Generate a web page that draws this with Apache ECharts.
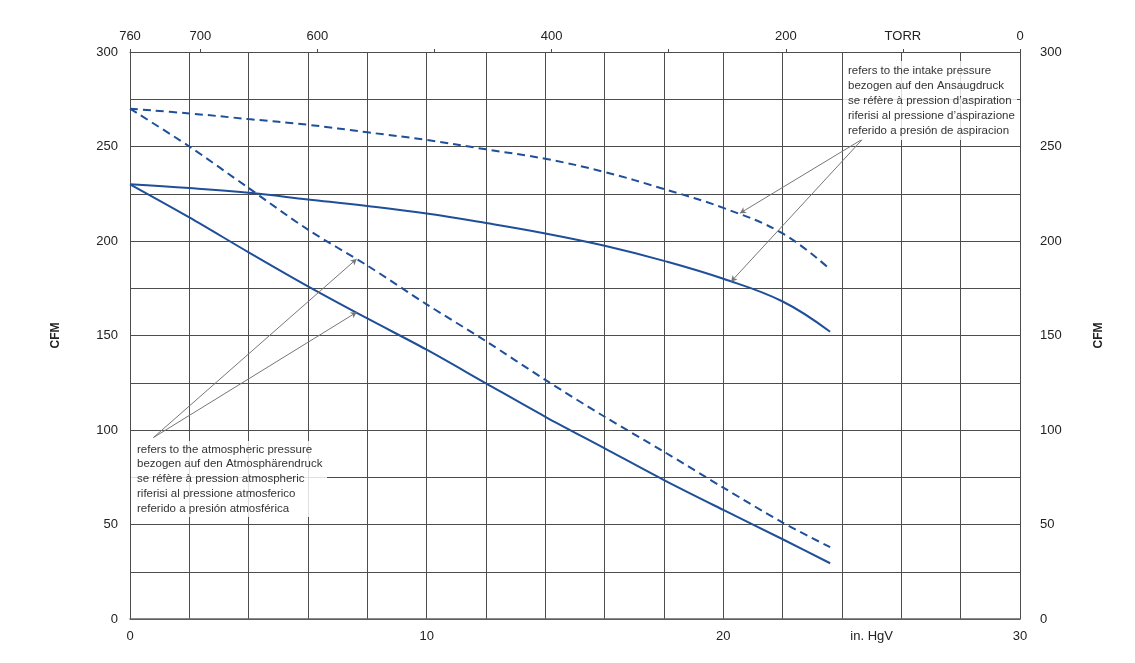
<!DOCTYPE html>
<html>
<head>
<meta charset="utf-8">
<script src="https://cdn.jsdelivr.net/npm/echarts@6/dist/echarts.min.js"></script>
<style>
html,body{margin:0;padding:0;background:#fff;}
#chart{width:1135px;height:663px;}
</style>
</head>
<body>
<div id="chart"></div>
<script>
// ---- data ----
const inHgV = [0, 2, 4, 6, 8, 10, 12, 14, 16, 18, 20, 22, 23.6];
// referred to intake pressure
const intakeDashed = [270, 267.5, 264.5, 261.5, 257.5, 253.5, 248.5, 243.5, 236.5, 227.5, 217.5, 204, 185];
const intakeSolid  = [230, 228, 225.5, 222, 218.5, 214.5, 209.5, 204, 197.5, 189.5, 180, 168, 152];
// referred to atmospheric pressure
const atmDashed = [270, 250, 228, 206, 187, 166.5, 147, 126.5, 107, 88.5, 69.5, 51, 38];
const atmSolid  = [230, 212.5, 194, 176, 159, 142.5, 124.7, 107, 90.3, 73.5, 57.7, 42.2, 29.5];

const torrTickLabels = {760: '760', 700: '700', 600: '600', 400: '400', 200: '200', 100: 'TORR', 0: '0'};
const hgTickLabels = {0: '0', 10: '10', 20: '20', 30: '30'};
const cfmTickLabels = [0, 50, 100, 150, 200, 250, 300];

const intakeNote = ['refers to the intake pressure', 'bezogen auf den Ansaugdruck', 'se réfère à pression d\u2019aspiration', 'riferisi al pressione d\u2019aspirazione', 'referido a presión de aspiracion'];
const atmNote = ['refers to the atmospheric pressure', 'bezogen auf den Atmosphärendruck', 'se réfère à pression atmospheric', 'riferisi al pressione atmosferico', 'referido a presión atmosférica'];

// leader lines in data units [from, to]
const intakeLeaders = [[[24.7, 254], [20.56, 214.7]], [[24.7, 254], [20.26, 178.5]]];
const atmLeaders = [[[0.79, 96], [7.64, 190.5]], [[0.79, 96], [7.64, 162.3]]];

// ---- chart ----
const FONT = '"Liberation Sans", Arial, sans-serif';
const BLUE = '#1f4f99';
const GRID = '#4d4d4d';
const pair = arr => inHgV.map((x, i) => [x, arr[i]]);

const chart = echarts.init(document.getElementById('chart'), null, {renderer: 'canvas'});

const leaderData = intakeLeaders.concat(atmLeaders).map(l => [{coord: l[0]}, {coord: l[1]}]);

const option = {
  animation: false,
  backgroundColor: '#fff',
  grid: {left: 130, right: 115, top: 52, bottom: 44, containLabel: false},
  xAxis: [
    {
      type: 'value', position: 'bottom', min: 0, max: 30, interval: 2,
      axisLine: {show: true, onZero: false, lineStyle: {color: '#666', width: 1.5}},
      axisTick: {show: false},
      splitLine: {show: true, lineStyle: {color: GRID, width: 1}},
      axisLabel: {margin: 11, color: '#222', fontFamily: FONT, fontSize: 13,
        formatter: v => hgTickLabels[v] !== undefined ? hgTickLabels[v] : ''}
    },
    {
      type: 'value', position: 'top', min: 0, max: 760, interval: 100, inverse: true,
      axisLine: {show: true, onZero: false, lineStyle: {color: GRID, width: 1}},
      axisTick: {show: true, length: 3, inside: false, lineStyle: {color: GRID}},
      splitLine: {show: false},
      axisLabel: {margin: 9, color: '#222', fontFamily: FONT, fontSize: 13,
        showMinLabel: true, showMaxLabel: true, hideOverlap: false,
        formatter: v => torrTickLabels[v] !== undefined ? torrTickLabels[v] : ''}
    },
    {
      type: 'value', position: 'bottom', min: 0, max: 30, interval: 5,
      axisLine: {show: false}, axisTick: {show: false}, splitLine: {show: false},
      axisLabel: {margin: 11, color: '#222', fontFamily: FONT, fontSize: 13,
        formatter: v => v === 25 ? 'in. HgV' : ''}
    }
  ],
  yAxis: [
    {
      type: 'value', position: 'left', min: 0, max: 300, interval: 25,
      name: 'CFM', nameLocation: 'middle', nameRotate: 90, nameGap: 68,
      nameTextStyle: {fontFamily: FONT, fontSize: 12, fontWeight: 'bold', color: '#222'},
      axisLine: {show: true, onZero: false, lineStyle: {color: GRID, width: 1}},
      axisTick: {show: false},
      splitLine: {show: true, lineStyle: {color: GRID, width: 1}},
      axisLabel: {margin: 12, color: '#222', fontFamily: FONT, fontSize: 13,
        formatter: v => cfmTickLabels.indexOf(v) >= 0 ? String(v) : ''}
    },
    {
      type: 'value', position: 'right', min: 0, max: 300, interval: 25,
      name: 'CFM', nameLocation: 'middle', nameRotate: 90, nameGap: 73,
      nameTextStyle: {fontFamily: FONT, fontSize: 12, fontWeight: 'bold', color: '#222'},
      axisLine: {show: true, onZero: false, lineStyle: {color: GRID, width: 1}},
      axisTick: {show: false},
      splitLine: {show: false},
      axisLabel: {margin: 20, color: '#222', fontFamily: FONT, fontSize: 13,
        formatter: v => cfmTickLabels.indexOf(v) >= 0 ? String(v) : ''}
    }
  ],
  series: [
    {
      name: 'intake dashed', type: 'line', xAxisIndex: 0, yAxisIndex: 0,
      data: pair(intakeDashed), smooth: 0.4, showSymbol: false, symbol: 'none',
      lineStyle: {color: BLUE, width: 2, type: [8, 5]}, z: 3
    },
    {
      name: 'intake solid', type: 'line', xAxisIndex: 0, yAxisIndex: 0,
      data: pair(intakeSolid), smooth: 0.4, showSymbol: false, symbol: 'none',
      lineStyle: {color: BLUE, width: 2}, z: 3
    },
    {
      name: 'atm dashed', type: 'line', xAxisIndex: 0, yAxisIndex: 0,
      data: pair(atmDashed), smooth: 0.3, showSymbol: false, symbol: 'none',
      lineStyle: {color: BLUE, width: 2, type: [8, 5]}, z: 3
    },
    {
      name: 'atm solid', type: 'line', xAxisIndex: 0, yAxisIndex: 0,
      data: pair(atmSolid), smooth: 0.3, showSymbol: false, symbol: 'none',
      lineStyle: {color: BLUE, width: 2}, z: 3,
      markLine: {
        silent: true, animation: false,
        symbol: ['none', 'arrow'], symbolSize: [5, 6],
        label: {show: false},
        lineStyle: {color: '#777', width: 1, type: 'solid'},
        data: leaderData
      }
    }
  ],
  graphic: [
    {type: 'rect', z: 50, shape: {x: 843, y: 61, width: 174, height: 79},
      style: {fill: 'rgba(255,255,255,0.82)'}},
    {type: 'text', z: 51, x: 848, y: 63,
      style: {text: intakeNote.join('\n'), font: '11.5px ' + FONT, lineHeight: 15, fill: '#333'}},
    {type: 'rect', z: 50, shape: {x: 131, y: 441, width: 196, height: 76},
      style: {fill: 'rgba(255,255,255,0.82)'}},
    {type: 'text', z: 51, x: 137, y: 442,
      style: {text: atmNote.join('\n'), font: '11.5px ' + FONT, lineHeight: 14.8, fill: '#333'}}
  ]
};
chart.setOption(option);
</script>
</body>
</html>
